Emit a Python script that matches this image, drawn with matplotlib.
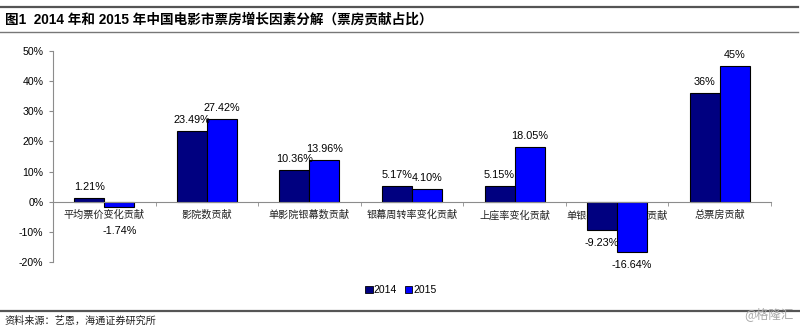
import matplotlib
matplotlib.use('Agg')
import matplotlib.pyplot as plt
from matplotlib.patches import Patch
import numpy as np

# data (percent contribution to box office growth)
categories = ['平均票价变化贡献', '影院数贡献', '单影院银幕数贡献', '银幕周转率变化贡献',
              '上座率变化贡献', '单银幕座位数变化贡献', '总票房贡献']
v2014 = [1.21, 23.49, 10.36, 5.17, 5.15, -9.23, 36]
v2015 = [-1.74, 27.42, 13.96, 4.10, 18.05, -16.64, 45]
labels2014 = ['1.21%', '23.49%', '10.36%', '5.17%', '5.15%', '-9.23%', '36%']
labels2015 = ['-1.74%', '27.42%', '13.96%', '4.10%', '18.05%', '-16.64%', '45%']
yticks = [-20, -10, 0, 10, 20, 30, 40, 50]

c2014 = '#000080'
c2015 = '#0000FF'
axis_gray = '#8c8c8c'
num_font = ['Liberation Sans', 'DejaVu Sans']
cjk_font = ['Noto Sans CJK SC', 'DejaVu Sans']

fig = plt.figure(figsize=(8, 3.28), dpi=100)

# page furniture: rules, title, source
fig.add_artist(plt.Line2D([0.0, 0.997], [1 - 7 / 328, 1 - 7 / 328], color='#555555', lw=1.6))
fig.add_artist(plt.Line2D([0.0, 0.997], [1 - 32 / 328, 1 - 32 / 328], color='#777777', lw=1.0))
fig.add_artist(plt.Line2D([0.0, 1.0], [1 - 311 / 328, 1 - 311 / 328], color='#555555', lw=1.6))
fig.text(0.006, 1 - 19.5 / 328, '图1  2014 年和 2015 年中国电影市票房增长因素分解（票房贡献占比）',
         family=['Liberation Sans', 'Noto Sans CJK SC'], fontsize=9.8, fontweight='bold',
         va='center', ha='left')
fig.text(0.006, 1 - 321 / 328, '资料来源：艺恩，海通证券研究所', family=cjk_font,
         fontsize=7.3, va='center', ha='left', color='#222222')
fig.text(0.992, 1 - 314 / 328, '@格隆汇', family=cjk_font, fontsize=9,
         va='center', ha='right', color='#aaaaaa')

ax = fig.add_axes([53 / 800, 1 - 262 / 328, (771 - 53) / 800, (262 - 51) / 328])

x = np.arange(len(categories))
w = 0.2925
ax.bar(x - w / 2, v2014, width=w, color=c2014, edgecolor='black', linewidth=0.8, zorder=3)
ax.bar(x + w / 2, v2015, width=w, color=c2015, edgecolor='black', linewidth=0.8, zorder=3)

# value labels (offset in points: above positive bars, below negative bars)
neg_pad = [-17.5, -9.5, -9.5, -9.5, -9.5, -9.5, -10]
for i in range(len(categories)):
    for xs, v, lab in ((x[i] - w / 2, v2014[i], labels2014[i]), (x[i] + w / 2, v2015[i], labels2015[i])):
        dy = 8 if v >= 0 else neg_pad[i]
        ax.annotate(lab, (xs, v), xytext=(0, dy), textcoords='offset points',
                    ha='center', va='center', fontsize=7.8, family=num_font, zorder=4)

ax.set_xlim(-0.5, len(categories) - 0.5)
ax.set_ylim(-20, 50)
ax.set_yticks(yticks)
ax.set_yticklabels([f'{t}%' for t in yticks], family=num_font, fontsize=7.6)

for s in ('top', 'right'):
    ax.spines[s].set_visible(False)
ax.spines['left'].set_color(axis_gray)
ax.spines['bottom'].set_color(axis_gray)
ax.spines['bottom'].set_position(('data', 0))
ax.spines['bottom'].set_zorder(5)

ax.tick_params(axis='y', direction='out', length=3, color=axis_gray, pad=4)
ax.set_xticks(x)
ax.set_xticklabels(categories, family=cjk_font, fontsize=7.3, color='#222222')
ax.tick_params(axis='x', which='major', length=0, pad=6)
ax.set_xticks(np.arange(len(categories) + 1) - 0.5, minor=True)
ax.tick_params(axis='x', which='minor', direction='out', length=3, color=axis_gray)

handles = [Patch(facecolor=c2014, edgecolor='black', linewidth=0.6),
           Patch(facecolor=c2015, edgecolor='black', linewidth=0.6)]
fig.legend(handles, ['2014', '2015'], loc='center', bbox_to_anchor=(401 / 800, 1 - 290 / 328),
           ncol=2, frameon=False, prop={'family': num_font, 'size': 7.5},
           handlelength=0.7, handleheight=0.7, handletextpad=0.1, columnspacing=0.8)

fig.savefig('out.png', dpi=100)
